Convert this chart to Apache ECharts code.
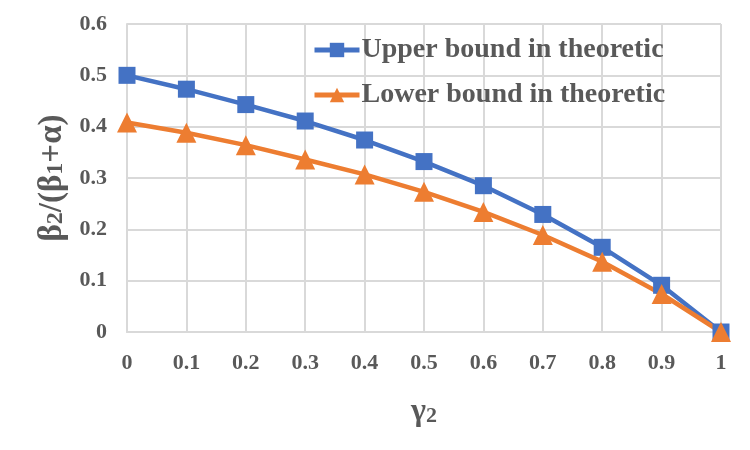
<!DOCTYPE html>
<html>
<head>
<meta charset="utf-8">
<script src="https://cdn.jsdelivr.net/npm/echarts@6.0.0/dist/echarts.min.js"></script>
<style>html,body{margin:0;padding:0;background:#fff}#c{width:750px;height:450px}</style>
</head>
<body>
<div id="c"></div>
<script>
var categories = ['0','0.1','0.2','0.3','0.4','0.5','0.6','0.7','0.8','0.9','1'];
var upperBound = [0.5,0.473,0.443,0.411,0.374,0.332,0.285,0.229,0.165,0.091,0];
var lowerBound = [0.408,0.388,0.364,0.336,0.307,0.273,0.234,0.189,0.137,0.074,0];
var seriesNames = ['Upper bound in theoretic','Lower bound in theoretic'];

var font = 'Liberation Serif';
var txt = '#595959';
var gridC = '#d9d9d9';
var chart = echarts.init(document.getElementById('c'));
chart.setOption({
  animation: false,
  backgroundColor: '#fff',
  grid: {left: 127, right: 29, top: 24, bottom: 118, containLabel: false},
  legend: {
    orient: 'vertical', left: 312, top: 36, padding: 0, itemGap: 17, itemWidth: 45, itemHeight: 18,
    lineStyle: {width: 5},
    textStyle: {fontFamily: font, fontWeight: 'bold', fontSize: 28, color: txt, lineHeight: 26, padding: [0,0,0,-3]},
    data: seriesNames
  },
  xAxis: {
    type: 'category', data: categories, boundaryGap: false,
    axisLine: {lineStyle: {color: gridC, width: 2}},
    axisTick: {show: false},
    splitLine: {show: true, lineStyle: {color: gridC, width: 2}},
    axisLabel: {fontFamily: font, fontWeight: 'bold', fontSize: 22, color: txt, margin: 20},
    name: '{b|γ}{s|2}', nameLocation: 'middle', nameGap: 64,
    nameTextStyle: {rich: {
      b: {fontFamily: font, fontWeight: 'bold', fontSize: 32, color: txt, lineHeight: 32, verticalAlign: 'bottom'},
      s: {fontFamily: font, fontWeight: 'bold', fontSize: 22, color: txt, lineHeight: 22, verticalAlign: 'bottom', padding: [0,0,1,0]}}}
  },
  yAxis: {
    type: 'value', min: 0, max: 0.6, interval: 0.1,
    axisLine: {show: true, lineStyle: {color: gridC, width: 2}},
    axisTick: {show: false},
    splitLine: {show: true, lineStyle: {color: gridC, width: 2}},
    axisLabel: {fontFamily: font, fontWeight: 'bold', fontSize: 22, color: txt, margin: 20},
    name: '{b|β}{s|2}{b|/(β}{s|1}{b|+α)}', nameLocation: 'middle', nameRotate: 90, nameGap: 57,
    nameTextStyle: {rich: {
      b: {fontFamily: font, fontWeight: 'bold', fontSize: 33, color: txt, lineHeight: 33, verticalAlign: 'bottom'},
      s: {fontFamily: font, fontWeight: 'bold', fontSize: 24, color: txt, lineHeight: 24, verticalAlign: 'bottom', padding: [0,0,1,0]}}}
  },
  series: [
    {name: seriesNames[0], type: 'line', data: upperBound, symbol: 'rect', symbolSize: 17,
     lineStyle: {width: 4.5, color: '#4472C4'}, itemStyle: {color: '#4472C4'}},
    {name: seriesNames[1], type: 'line', data: lowerBound, symbol: 'triangle', symbolSize: 20,
     lineStyle: {width: 4.5, color: '#ED7D31'}, itemStyle: {color: '#ED7D31'}}
  ]
});
</script>
</body>
</html>
